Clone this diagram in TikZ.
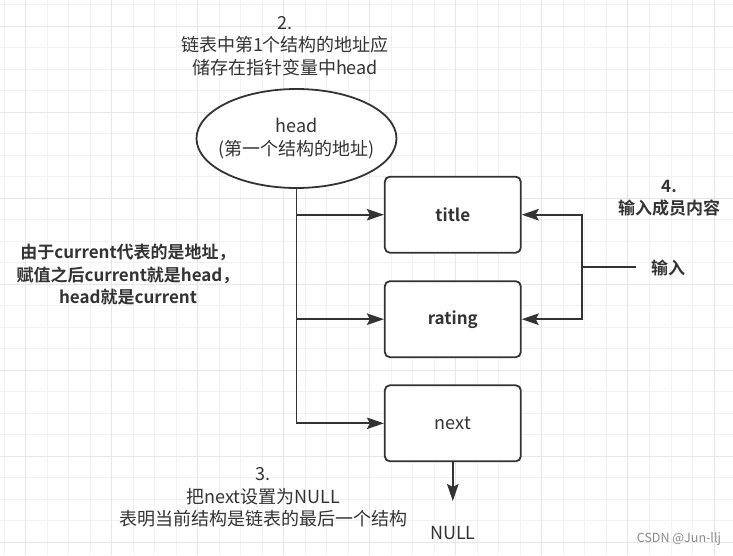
\documentclass[tikz,border=0pt]{standalone}
\usepackage{fontspec}
\setmainfont{Noto Sans CJK SC}[BoldFont={Noto Sans CJK SC Bold}]
\usetikzlibrary{arrows.meta,shapes.geometric}

\definecolor{ink}{HTML}{333333}
\definecolor{gridminor}{HTML}{F1F1F1}
\definecolor{gridmajor}{HTML}{E6E6E6}
\definecolor{mark}{HTML}{8A8A8A}

\tikzset{
  field/.style={draw=ink,fill=white,line width=1.8pt,rounded corners=5pt,
    minimum width=136pt,minimum height=76pt,inner sep=0pt,text=ink},
  ptr/.style={draw=ink,line width=1.8pt,-{Stealth[length=17pt,width=11.5pt,inset=3pt]}},
  wire/.style={draw=ink,line width=1.8pt},
  note/.style={align=center,text=ink,inner sep=0pt},
  txt/.style={font=\fontsize{18}{22.5}\selectfont},
  boldtxt/.style={font=\bfseries\fontsize{17}{22.5}\selectfont}
}

\begin{document}
\begin{tikzpicture}[x=1pt,y=-1pt]
  \useasboundingbox[fill=white] (0,0) rectangle (733,555);
  % grid
  \foreach \i in {0,...,33}
    \draw[gridminor,line width=1pt] ({4.19+21.51*\i},0) -- ({4.19+21.51*\i},555);
  \foreach \j in {0,...,25}
    \draw[gridminor,line width=1pt] (0,{4.49+21.51*\j}) -- (733,{4.49+21.51*\j});
  \foreach \i in {1,5,...,33}
    \draw[gridmajor,line width=1pt] ({4.19+21.51*\i},0) -- ({4.19+21.51*\i},555);
  \foreach \j in {1,5,...,25}
    \draw[gridmajor,line width=1pt] (0,{4.49+21.51*\j}) -- (733,{4.49+21.51*\j});

  % notes
  \node[note,txt] (top) at (285,46) {2.\\链表中第1个结构的地址应\\储存在指针变量中head};
  \node[note,boldtxt] (left) at (128,275)
    {由于current代表的是地址，\\赋值之后current就是head，\\head就是current};
  \node[note,txt] (bottom) at (263,497.5) {3.\\把next设置为NULL\\表明当前结构是链表的最后一个结构};
  \node[note,boldtxt] (step4) at (669,198) {4.\\输入成员内容};

  % head pointer
  \node[ellipse,draw=ink,fill=white,line width=1.8pt,minimum width=200pt,minimum height=99pt,
    note,txt,inner xsep=-10pt,inner ysep=0pt] (head) at (296.5,138.5) {head\\(第一个结构的地址)};

  % structure members
  \node[field,boldtxt] (title) at (452.8,214.7) {title};
  \node[field,boldtxt] (rating) at (452.8,319.2) {rating};
  \node[field,txt] (next) at (452.8,423.3) {next};
  \node[note,txt] (null) at (452.8,533.3) {NULL};
  \coordinate (nulltip) at (452.8,501);

  \draw[ptr] (head.south) |- (next.west);
  \draw[ptr] (head.south |- title.west) -- (title.west);
  \draw[ptr] (head.south |- rating.west) -- (rating.west);
  \draw[ptr] (next.south) -- (nulltip);

  % input
  \node[note,boldtxt] (input) at (668,268) {输入};
  \coordinate (feed) at (636,267);
  \coordinate (split) at (582,267);
  \draw[wire] (feed) -- (split);
  \draw[ptr] (split) |- (title.east);
  \draw[ptr] (split) |- (rating.east);

  \node[text=mark,font=\fontsize{12.5}{14}\selectfont,inner sep=0pt] (csdn) at (679,539) {CSDN @Jun-llj};
\end{tikzpicture}
\end{document}
